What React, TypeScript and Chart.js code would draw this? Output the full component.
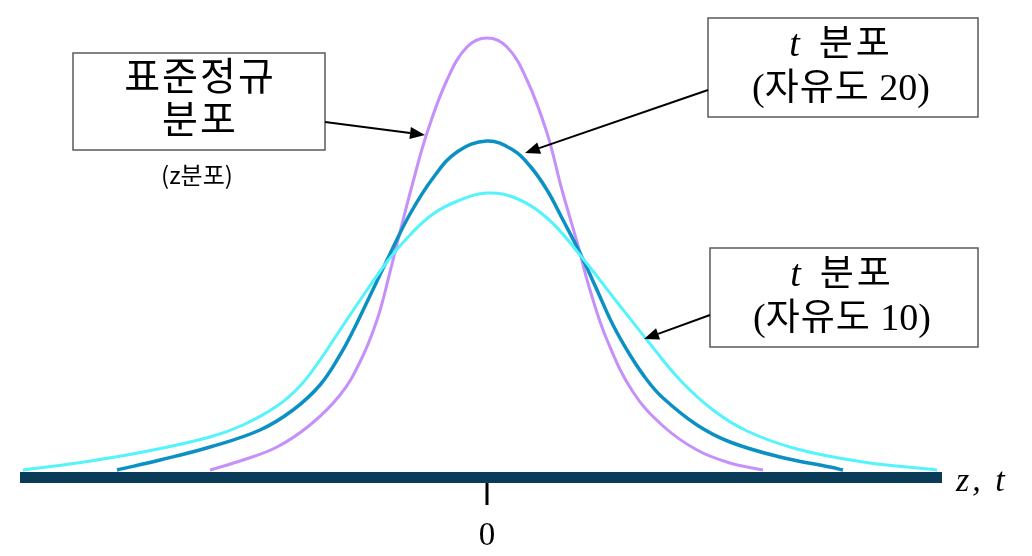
import React, { useEffect, useRef } from 'react';
import { Chart, registerables } from 'chart.js';

Chart.register(...registerables);

// Standard normal (z) curve
const normalZ = [-2.77, -2.44, -2.1, -1.77, -1.47, -1.27, -1.1, -0.97, -0.87, -0.74, -0.6, -0.4, -0.2, 0, 0.2, 0.4, 0.6, 0.75, 0.9, 1.03, 1.2, 1.46, 1.76, 2.1, 2.43, 2.76];
const normalY = [0.002, 0.012, 0.025, 0.047, 0.077, 0.11, 0.152, 0.2, 0.24, 0.29, 0.339, 0.392, 0.425, 0.434, 0.425, 0.392, 0.339, 0.282, 0.23, 0.182, 0.132, 0.08, 0.046, 0.022, 0.009, 0.002];

// t distribution, 20 degrees of freedom
const t20Z = [-3.7, -3.27, -2.77, -2.27, -1.94, -1.67, -1.47, -1.32, -1.2, -0.97, -0.77, -0.54, -0.3, 0, 0.26, 0.43, 0.6, 0.76, 0.93, 1.1, 1.26, 1.43, 1.6, 1.76, 2.1, 2.43, 2.93, 3.43, 3.56];
const t20Y = [0.002, 0.012, 0.025, 0.042, 0.062, 0.087, 0.117, 0.145, 0.17, 0.218, 0.258, 0.294, 0.32, 0.331, 0.322, 0.306, 0.282, 0.252, 0.219, 0.182, 0.147, 0.117, 0.092, 0.074, 0.047, 0.03, 0.015, 0.005, 0.002];

// t distribution, 10 degrees of freedom
const t10Z = [-4.64, -4.1, -3.44, -2.77, -2.44, -2.1, -1.87, -1.67, -1.47, -1.2, -0.97, -0.77, -0.54, -0.27, 0, 0.26, 0.6, 0.93, 1.26, 1.6, 1.93, 2.26, 2.6, 3.1, 3.76, 4.5];
const t10Y = [0.002, 0.009, 0.02, 0.035, 0.047, 0.066, 0.086, 0.112, 0.142, 0.182, 0.214, 0.237, 0.258, 0.272, 0.279, 0.275, 0.254, 0.217, 0.175, 0.132, 0.092, 0.062, 0.041, 0.023, 0.01, 0.002];

const tickValues = [0];
const tickLabels = ['0'];
const axisTitle = 'z, t';

const zMin = -4.67;
const zMax = 4.53;
const yMax = 0.442;

const SANS = "'Noto Sans CJK KR', 'Noto Sans', sans-serif";
const SERIF = "'Liberation Serif', 'DejaVu Serif', serif";

type Run = { t: string; f: string; ls?: string };

const annotations: {
  lines: Run[][];
  box: [number, number, number, number];
  cx: number;
  baselines: number[];
  from: [number, number];
  tip: [number, number];
}[] = [
  {
    lines: [[{ t: '표준정규', f: `39px ${SANS}`, ls: '2px' }], [{ t: '분포', f: `39px ${SANS}`, ls: '2px' }]],
    box: [73, 53, 252, 97],
    cx: 200,
    baselines: [90, 133],
    from: [325, 122],
    tip: [-0.62, 0.337],
  },
  {
    lines: [
      [{ t: 't', f: `italic 38px ${SERIF}` }, { t: '  ', f: `38px ${SERIF}` }, { t: '분포', f: `37px ${SANS}`, ls: '3px' }],
      [{ t: '(', f: `38px ${SERIF}` }, { t: '자유도', f: `37px ${SANS}`, ls: '1px' }, { t: ' 20)', f: `38px ${SERIF}` }],
    ],
    box: [708, 18, 270, 99],
    cx: 841,
    baselines: [56, 100],
    from: [708, 90],
    tip: [0.38, 0.319],
  },
  {
    lines: [
      [{ t: 't', f: `italic 38px ${SERIF}` }, { t: '  ', f: `38px ${SERIF}` }, { t: '분포', f: `37px ${SANS}`, ls: '3px' }],
      [{ t: '(', f: `38px ${SERIF}` }, { t: '자유도', f: `37px ${SANS}`, ls: '1px' }, { t: ' 10)', f: `38px ${SERIF}` }],
    ],
    box: [710, 248, 268, 99],
    cx: 842,
    baselines: [286, 330],
    from: [710, 315],
    tip: [1.57, 0.133],
  },
];

const subLabel = '(z분포)';

const pts = (xs: number[], ys: number[]) => xs.map((x, i) => ({ x, y: ys[i] }));

function drawRuns(ctx: CanvasRenderingContext2D, runs: Run[], cx: number, baseline: number) {
  const c: any = ctx;
  let total = 0;
  const widths = runs.map((r) => {
    ctx.font = r.f;
    c.letterSpacing = r.ls || '0px';
    const w = ctx.measureText(r.t).width;
    total += w;
    return w;
  });
  let x = cx - total / 2;
  ctx.textAlign = 'left';
  ctx.textBaseline = 'alphabetic';
  runs.forEach((r, i) => {
    ctx.font = r.f;
    c.letterSpacing = r.ls || '0px';
    ctx.fillText(r.t, x, baseline);
    x += widths[i];
  });
  c.letterSpacing = '0px';
}

function drawArrow(ctx: CanvasRenderingContext2D, x1: number, y1: number, x2: number, y2: number) {
  const ang = Math.atan2(y2 - y1, x2 - x1);
  const head = 15;
  const half = 6;
  const bx = x2 - head * Math.cos(ang);
  const by = y2 - head * Math.sin(ang);
  ctx.strokeStyle = '#000';
  ctx.lineWidth = 2;
  ctx.beginPath();
  ctx.moveTo(x1, y1);
  ctx.lineTo(bx, by);
  ctx.stroke();
  ctx.fillStyle = '#000';
  ctx.beginPath();
  ctx.moveTo(x2, y2);
  ctx.lineTo(bx + half * Math.sin(ang), by - half * Math.cos(ang));
  ctx.lineTo(bx - half * Math.sin(ang), by + half * Math.cos(ang));
  ctx.closePath();
  ctx.fill();
}

const annotPlugin = {
  id: 'annot',
  afterDatasetsDraw(chart: any) {
    const ctx: CanvasRenderingContext2D = chart.ctx;
    const xs = chart.scales.x;
    const ys = chart.scales.y;
    ctx.save();

    // axis bar
    const barTop = ys.getPixelForValue(0);
    ctx.fillStyle = '#0a3c5a';
    ctx.fillRect(xs.left, barTop, xs.right + 2 - xs.left, 11);

    // ticks and tick labels
    tickValues.forEach((v, i) => {
      const px = xs.getPixelForValue(v);
      ctx.fillStyle = '#000';
      ctx.fillRect(px - 1.5, barTop + 11, 3, 22);
      ctx.font = `33px ${SERIF}`;
      ctx.textAlign = 'center';
      ctx.textBaseline = 'alphabetic';
      ctx.fillText(tickLabels[i], px, 545);
    });

    // axis title
    const c: any = ctx;
    c.letterSpacing = '3px';
    ctx.font = `italic 34px ${SERIF}`;
    ctx.textAlign = 'left';
    ctx.textBaseline = 'alphabetic';
    ctx.fillStyle = '#000';
    ctx.fillText(axisTitle, xs.right + 16, barTop + 19);
    c.letterSpacing = '0px';

    // annotation boxes
    annotations.forEach((a) => {
      ctx.fillStyle = '#fff';
      ctx.fillRect(a.box[0], a.box[1], a.box[2], a.box[3]);
      ctx.strokeStyle = '#5a5a5a';
      ctx.lineWidth = 1.5;
      ctx.strokeRect(a.box[0], a.box[1], a.box[2], a.box[3]);
      ctx.fillStyle = '#000';
      a.lines.forEach((runs, i) => drawRuns(ctx, runs, a.cx, a.baselines[i]));
      drawArrow(ctx, a.from[0], a.from[1], xs.getPixelForValue(a.tip[0]), ys.getPixelForValue(a.tip[1]));
    });

    ctx.fillStyle = '#000';
    drawRuns(ctx, [{ t: subLabel, f: `24px ${SANS}` }], 197, 184);

    ctx.restore();
  },
};

export default function App() {
  const ref = useRef<HTMLCanvasElement | null>(null);
  useEffect(() => {
    if (!ref.current) return;
    const common = { pointRadius: 0, tension: 0.4, clip: false as any };
    const chart = new Chart(ref.current, {
      type: 'line',
      data: {
        datasets: [
          { label: 't10', data: pts(t10Z, t10Y), borderColor: '#55f3fb', borderWidth: 3, ...common },
          { label: 't20', data: pts(t20Z, t20Y), borderColor: '#0b90c4', borderWidth: 3.5, ...common },
          { label: 'normal', data: pts(normalZ, normalY), borderColor: '#c590f9', borderWidth: 3, ...common },
        ],
      },
      options: {
        responsive: false,
        animation: false,
        layout: { padding: { left: 20, right: 92, top: 30, bottom: 84 } },
        scales: {
          x: { type: 'linear', min: zMin, max: zMax, display: false },
          y: { type: 'linear', min: 0, max: yMax, display: false },
        },
        plugins: { legend: { display: false }, tooltip: { enabled: false }, title: { display: false } },
      },
      plugins: [annotPlugin],
    });
    return () => chart.destroy();
  }, []);
  return (
    <div style={{ position: 'fixed', left: 0, top: 0, width: 1032, height: 556, background: '#fff' }}>
      <canvas ref={ref} width={1032} height={556} style={{ display: 'block' }} />
    </div>
  );
}
